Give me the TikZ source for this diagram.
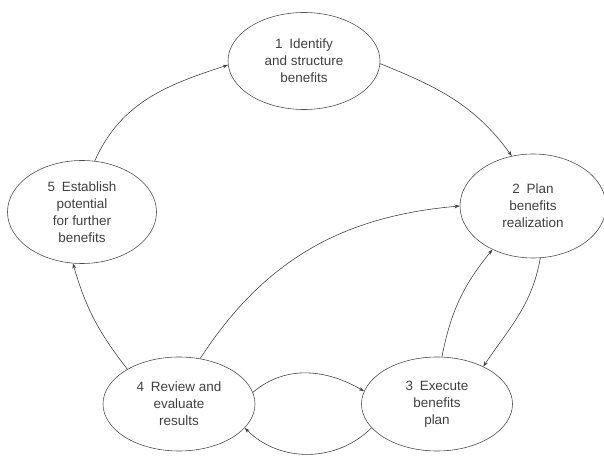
\documentclass[tikz,border=0pt]{standalone}
\usepackage{fontspec}
\setmainfont{Liberation Sans}
\usetikzlibrary{shapes.geometric, arrows.meta}
\tikzset{
  stage/.style={ellipse, draw=black!70, line width=0.5pt, align=center, text=black!75, font=\fontsize{11.5}{14.5}\selectfont, inner sep=0pt},
  arrowline/.style={-{Stealth[length=4.5pt, width=3.2pt]}, draw=black!75, line width=0.5pt},
}

\begin{document}
\begin{tikzpicture}[x=0.03cm, y=0.03cm]
\useasboundingbox (0,0) rectangle (604,-457);
\node[stage, minimum width=4.56cm, minimum height=2.91cm] (identify) at (304,-61) {1\enspace Identify\\and structure\\benefits};
\node[stage, minimum width=4.38cm, minimum height=3.12cm] (plan) at (533,-206) {2\enspace Plan\\benefits\\realization};
\node[stage, minimum width=4.53cm, minimum height=2.82cm] (execute) at (437,-404) {3\enspace Execute\\benefits\\plan};
\node[stage, minimum width=4.56cm, minimum height=2.82cm] (review) at (179,-404) {4\enspace Review and\\evaluate\\results};
\node[stage, minimum width=4.47cm, minimum height=3.09cm] (establish) at (82,-212) {5\enspace Establish\\potential\\for further\\benefits};

\draw[arrowline] (establish.76) to[out=66, in=198] (identify.183);
\draw[arrowline] (identify.358) to[out=-22, in=126] (plan.113);
\draw[arrowline] (plan.278) to[out=260, in=56] (execute.39);
\draw[arrowline] (execute.84) to[out=79, in=231] (plan.227);
\draw[arrowline] (review.65) to[out=57, in=185] (plan.180);
\draw[arrowline] (review.9) to[out=40, in=150] (execute.170);
\draw[arrowline] (execute.200) to[out=225, in=315] (review.340);
\draw[arrowline] (review.146) to[out=128, in=286] (establish.260);
\end{tikzpicture}
\end{document}
